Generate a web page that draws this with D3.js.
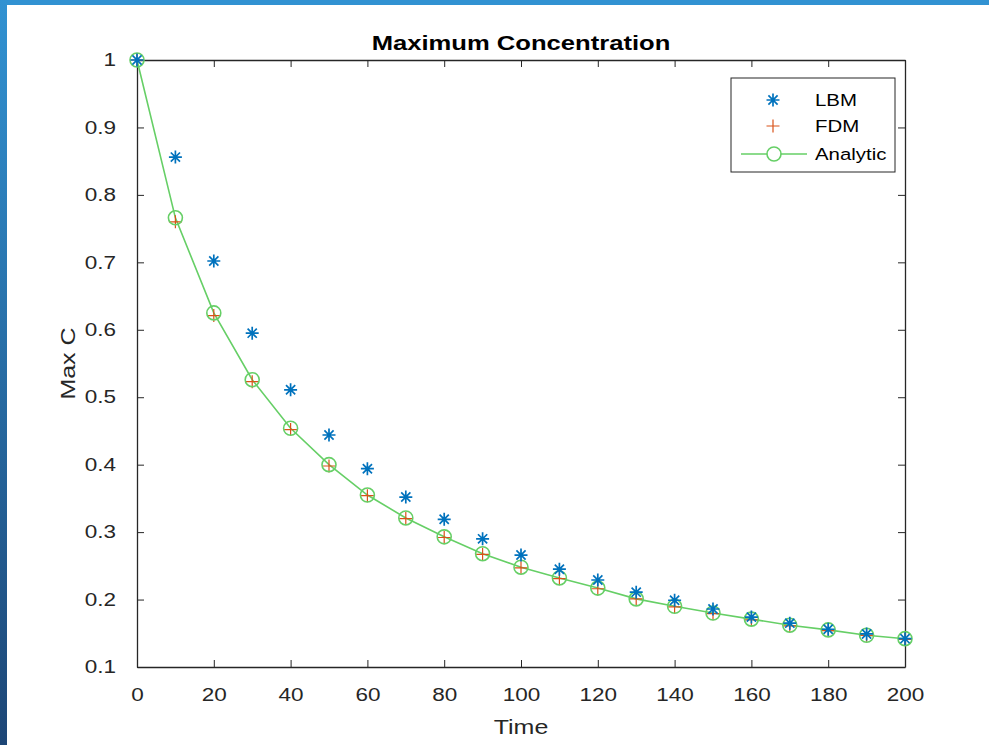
<!DOCTYPE html>
<html>
<head>
<meta charset="utf-8">
<script src="https://cdn.jsdelivr.net/npm/d3@7"></script>
<style>
  html, body { margin: 0; padding: 0; background: #fff; }
  svg { display: block; font-family: "Liberation Sans", Arial, Helvetica, sans-serif; }
</style>
</head>
<body>
<svg id="chart" width="989" height="745"></svg>
<script>
// Sample times
const times = [0, 10, 20, 30, 40, 50, 60, 70, 80, 90, 100, 110, 120, 130, 140, 150, 160, 170, 180, 190, 200];

// Maximum concentration per method
const lbm = [1.0, 0.856, 0.702, 0.595, 0.511, 0.444, 0.394, 0.352, 0.319, 0.290, 0.266,
             0.245, 0.229, 0.211, 0.199, 0.186, 0.174, 0.165, 0.156, 0.149, 0.142];
const fdm = [1.0, 0.760, 0.621, 0.523, 0.452, 0.398, 0.354, 0.320, 0.292, 0.267, 0.247,
             0.231, 0.216, 0.201, 0.189, 0.179, 0.170, 0.161, 0.154, 0.147, 0.141];
const analytic = [1.0, 0.766, 0.625, 0.526, 0.454, 0.400, 0.355, 0.321, 0.293, 0.268, 0.248,
                  0.232, 0.217, 0.201, 0.190, 0.180, 0.171, 0.162, 0.155, 0.147, 0.142];

const xTicks = [0, 20, 40, 60, 80, 100, 120, 140, 160, 180, 200];
const yTicks = [0.1, 0.2, 0.3, 0.4, 0.5, 0.6, 0.7, 0.8, 0.9, 1];
const seriesNames = ["LBM", "FDM", "Analytic"];

const colLBM = "#0072BD", colFDM = "#D95319", colAna = "#66cf66", axisCol = "#262626";
const WIDE = 1.25; // horizontal stretch applied to all lettering

const svg = d3.select("#chart");

// Slide frame: blue bars along the top and left edges
const grad = svg.append("defs").append("linearGradient")
  .attr("id", "edge").attr("x1", 0).attr("y1", 0).attr("x2", 0).attr("y2", 1);
grad.append("stop").attr("offset", "0%").attr("stop-color", "#3192d2");
grad.append("stop").attr("offset", "100%").attr("stop-color", "#1d4676");
svg.append("rect").attr("x", 0).attr("y", 0).attr("width", 989).attr("height", 5).attr("fill", "#3192d2");
svg.append("rect").attr("x", 0).attr("y", 0).attr("width", 7).attr("height", 745).attr("fill", "url(#edge)");

const L = 137, R = 905, T = 60, B = 667;
const x = d3.scaleLinear().domain([0, 200]).range([L, R]);
const y = d3.scaleLinear().domain([0.1, 1]).range([B, T]);

const g = svg.append("g");

// Axes with inward ticks on all four sides
const tickLen = 7, pad = 21;
const axBottom = g.append("g").attr("transform", `translate(0,${B})`)
  .call(d3.axisBottom(x).tickValues(xTicks).tickSizeInner(-tickLen).tickSizeOuter(0).tickPadding(pad));
const axLeft = g.append("g").attr("transform", `translate(${L},0)`)
  .call(d3.axisLeft(y).tickValues(yTicks).tickSizeInner(-tickLen).tickSizeOuter(0).tickPadding(pad)
    .tickFormat(d3.format("~g")));
const axTop = g.append("g").attr("transform", `translate(0,${T})`)
  .call(d3.axisTop(x).tickValues(xTicks).tickSizeInner(-tickLen).tickSizeOuter(0).tickFormat(""));
const axRight = g.append("g").attr("transform", `translate(${R},0)`)
  .call(d3.axisRight(y).tickValues(yTicks).tickSizeInner(-tickLen).tickSizeOuter(0).tickFormat(""));

[axBottom, axLeft, axTop, axRight].forEach(a => {
  a.select(".domain").attr("stroke", axisCol).attr("stroke-width", 1.3);
  a.selectAll(".tick line").attr("stroke", axisCol).attr("stroke-width", 1);
  a.selectAll(".tick text").attr("fill", axisCol).attr("font-size", 18)
    .attr("font-family", "\"Liberation Sans\", Arial, sans-serif");
});
axBottom.selectAll(".tick text").attr("dy", "0.71em").attr("transform", `scale(${WIDE},1)`);
axLeft.selectAll(".tick text").attr("x", -pad / WIDE).attr("transform", `scale(${WIDE},1)`);

// Asterisk marker path (8-spoke star)
function asterisk(s) {
  const r = s / 2, d = r * Math.SQRT1_2;
  return `M${-r},0L${r},0M0,${-r}L0,${r}M${-d},${-d}L${d},${d}M${-d},${d}L${d},${-d}`;
}
function plus(s) {
  const r = s / 2;
  return `M${-r},0L${r},0M0,${-r}L0,${r}`;
}

const plot = g.append("g");

// Analytic solution: line with hollow circles
plot.append("path")
  .datum(times.map((t, i) => [t, analytic[i]]))
  .attr("fill", "none").attr("stroke", colAna).attr("stroke-width", 1.6)
  .attr("d", d3.line().x(d => x(d[0])).y(d => y(d[1])));

// FDM: plus markers
plot.append("g").selectAll("path").data(times.map((t, i) => [t, fdm[i]])).join("path")
  .attr("transform", d => `translate(${x(d[0])},${y(d[1])})`)
  .attr("d", plus(13)).attr("stroke", colFDM).attr("stroke-width", 1.2).attr("fill", "none");

plot.append("g").selectAll("circle").data(times.map((t, i) => [t, analytic[i]])).join("circle")
  .attr("cx", d => x(d[0])).attr("cy", d => y(d[1])).attr("r", 7)
  .attr("fill", "none").attr("stroke", colAna).attr("stroke-width", 1.6);

// LBM: asterisk markers
plot.append("g").selectAll("path").data(times.map((t, i) => [t, lbm[i]])).join("path")
  .attr("transform", d => `translate(${x(d[0])},${y(d[1])})`)
  .attr("d", asterisk(13)).attr("stroke", colLBM).attr("stroke-width", 1.7).attr("fill", "none");

// Title and axis labels
svg.append("text").attr("transform", `translate(${(L + R) / 2},50) scale(${WIDE + 0.03},1)`)
  .attr("text-anchor", "middle")
  .attr("font-size", 20).attr("font-weight", "bold").attr("fill", "#000")
  .text("Maximum Concentration");
svg.append("text").attr("transform", `translate(${(L + R) / 2},734) scale(${WIDE},1)`)
  .attr("text-anchor", "middle")
  .attr("font-size", 20).attr("fill", axisCol).text("Time");
svg.append("text").attr("transform", `translate(75,${(T + B) / 2}) rotate(-90) scale(${WIDE},1)`)
  .attr("text-anchor", "middle").attr("font-size", 20).attr("fill", axisCol).text("Max C");

// Legend
const lg = svg.append("g").attr("transform", "translate(731,78)");
lg.append("rect").attr("width", 164).attr("height", 94)
  .attr("fill", "#fff").attr("stroke", axisCol).attr("stroke-width", 1);
const rowsY = [22, 48, 76];
lg.append("path").attr("transform", `translate(42,${rowsY[0]})`)
  .attr("d", asterisk(13)).attr("stroke", colLBM).attr("stroke-width", 1.7).attr("fill", "none");
lg.append("path").attr("transform", `translate(42,${rowsY[1]})`)
  .attr("d", plus(13)).attr("stroke", colFDM).attr("stroke-width", 1.2).attr("fill", "none");
lg.append("line").attr("x1", 10).attr("x2", 76).attr("y1", rowsY[2]).attr("y2", rowsY[2])
  .attr("stroke", colAna).attr("stroke-width", 1.6);
lg.append("circle").attr("cx", 43).attr("cy", rowsY[2]).attr("r", 7)
  .attr("fill", "#fff").attr("stroke", colAna).attr("stroke-width", 1.6);
lg.selectAll("text.lab").data(seriesNames).join("text").attr("class", "lab")
  .attr("transform", (d, i) => `translate(84,${rowsY[i]}) scale(1.2,1)`)
  .attr("dy", "0.35em")
  .attr("font-size", 17).attr("fill", "#000").text(d => d);
</script>
</body>
</html>
